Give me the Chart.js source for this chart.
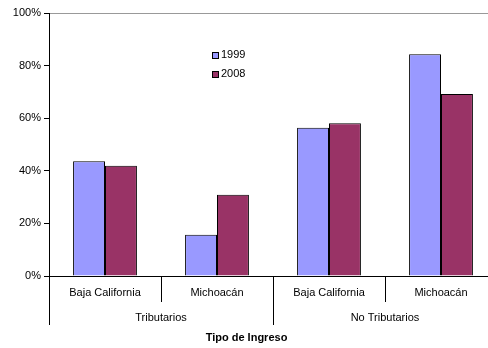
<!DOCTYPE html>
<html>
<head>
<meta charset="UTF-8">
<title>Tipo de Ingreso</title>
<script src="https://cdn.jsdelivr.net/npm/chart.js@4.4.0/dist/chart.umd.min.js"></script>
<style>
    body { margin: 0; overflow: hidden; background: #fff; }
</style>
</head>
<body>
<canvas id="ingresoChart" width="500" height="348"></canvas>
<script>
    // data
    var states = ["Baja California", "Michoacán", "Baja California", "Michoacán"];
    var groups = ["Tributarios", "No Tributarios"];
    var years = ["1999", "2008"];
    var values1999 = [43.6, 15.7, 56.4, 84.3];
    var values2008 = [41.9, 30.9, 58.1, 69.2];
    var colors = ["#9999FF", "#993366"];

    var FONT = "'Liberation Sans', Arial, sans-serif";

    var groupLabels = {
        id: "groupLabels",
        afterDraw: function (chart) {
            var ctx = chart.ctx;
            var x = chart.scales.x;
            var area = chart.chartArea;
            var bottom = area.bottom;
            var n = states.length;

            var edges = [area.left];
            for (var i = 0; i < n - 1; i++) {
                edges.push((x.getPixelForValue(i) + x.getPixelForValue(i + 1)) / 2);
            }
            edges.push(area.right);

            ctx.save();
            ctx.strokeStyle = "#000";
            ctx.lineWidth = 1;
            ctx.beginPath();
            for (var e = 0; e < edges.length; e++) {
                var ex = Math.round(edges[e]) + 0.5;
                var isGroup = (e % 2 === 0);
                ctx.moveTo(ex, bottom);
                ctx.lineTo(ex, isGroup ? bottom + 49 : bottom + 26);
            }
            ctx.stroke();

            ctx.fillStyle = "#000";
            ctx.textAlign = "center";
            ctx.textBaseline = "middle";
            ctx.font = "11px " + FONT;
            for (var j = 0; j < n; j++) {
                ctx.fillText(states[j], x.getPixelForValue(j), bottom + 17);
            }
            for (var g = 0; g < groups.length; g++) {
                var cx = (x.getPixelForValue(g * 2) + x.getPixelForValue(g * 2 + 1)) / 2;
                ctx.fillText(groups[g], cx, bottom + 42);
            }
            ctx.font = "bold 11px " + FONT;
            ctx.fillText("Tipo de Ingreso", (area.left + 488) / 2 - 22, bottom + 62);

            // legend
            ctx.font = "11px " + FONT;
            ctx.textAlign = "left";
            for (var k = 0; k < years.length; k++) {
                var ly = 55 + k * 19;
                ctx.fillStyle = colors[k];
                ctx.fillRect(212, ly - 3, 6, 6);
                ctx.strokeRect(212.5, ly - 2.5, 6, 6);
                ctx.fillStyle = "#000";
                ctx.fillText(years[k], 221, ly);
            }
            ctx.restore();
        }
    };

    new Chart(document.getElementById("ingresoChart"), {
        type: "bar",
        data: {
            labels: states,
            datasets: [
                { label: years[0], data: values1999, backgroundColor: colors[0], borderColor: "#000", borderWidth: 1 },
                { label: years[1], data: values2008, backgroundColor: colors[1], borderColor: "#000", borderWidth: 1 }
            ]
        },
        options: {
            responsive: false,
            animation: false,
            categoryPercentage: 0.57,
            barPercentage: 1.0,
            layout: { padding: { top: 13, right: 3, left: 0, bottom: 0 } },
            plugins: {
                legend: { display: false },
                tooltip: { enabled: false }
            },
            scales: {
                x: {
                    grid: { display: false },
                    border: { color: "#000" },
                    ticks: { display: false },
                    afterFit: function (s) { s.height = 72; }
                },
                y: {
                    min: 0,
                    max: 100,
                    ticks: {
                        stepSize: 20,
                        color: "#000",
                        padding: 3,
                        font: { family: FONT, size: 11 },
                        callback: function (v) { return v + "%"; }
                    },
                    grid: {
                        color: function (c) { return c.tick && c.tick.value === 100 ? "#999" : "rgba(0,0,0,0)"; },
                        tickColor: "#000",
                        tickLength: 5
                    },
                    border: { color: "#000" },
                    afterFit: function (s) { s.width = 49; }
                }
            }
        },
        plugins: [groupLabels]
    });
</script>
</body>
</html>
